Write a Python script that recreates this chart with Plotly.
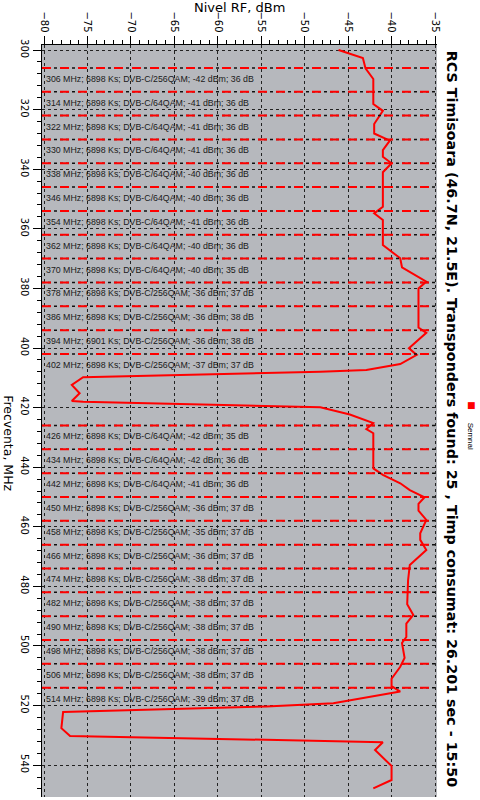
import plotly.graph_objects as go

# Scanned signal level (dBm) along frequency (MHz)
freq_mhz = [300.0, 302.7, 306.1, 309.7, 318.1, 320.4, 324.8, 328.0, 330.4, 333.6,
            335.8, 338.0, 341.0, 352.6, 354.8, 357.0, 365.4, 369.9, 372.9, 377.7,
            380.0, 393.1, 394.9, 400.1, 402.3, 405.4, 407.4, 408.0, 409.8, 412.4,
            415.2, 417.8, 418.0, 419.9, 422.3, 425.2, 427.2, 428.6, 440.4, 442.6,
            445.4, 447.7, 450.1, 452.3, 454.6, 457.7, 462.2, 464.4, 467.8, 472.8,
            478.0, 486.0, 489.6, 492.5, 497.0, 499.0, 504.0, 507.0, 511.0, 513.5,
            515.3, 519.2, 520.3, 522.2, 527.6, 530.2, 532.3, 534.9, 540.3, 545.0,
            547.8]
level_dbm = [-46.1, -43.3, -43.0, -42.1, -42.1, -41.0, -42.0, -42.0, -40.2, -41.0,
             -41.0, -40.0, -41.0, -41.0, -42.0, -41.0, -41.0, -39.0, -38.8, -36.0,
             -36.9, -36.9, -36.0, -38.0, -37.1, -39.0, -42.9, -48.2, -75.5, -76.8,
             -75.9, -76.8, -75.5, -48.2, -44.8, -42.1, -42.9, -42.1, -42.1, -41.0,
             -39.0, -37.9, -36.2, -36.9, -36.9, -36.0, -36.7, -36.7, -36.0, -37.9,
             -38.1, -38.2, -37.5, -38.3, -38.3, -38.8, -38.5, -39.0, -40.0, -40.0,
             -39.0, -46.7, -54.4, -77.8, -78.0, -77.0, -41.0, -41.9, -40.0, -40.0,
             -42.1]

# Transponders found
tp_freq = [306, 314, 322, 330, 338, 346, 354, 362, 370, 378, 386, 394, 402,
           426, 434, 442, 450, 458, 466, 474, 482, 490, 498, 506, 514]
tp_symrate = [6898, 6898, 6898, 6898, 6898, 6898, 6898, 6898, 6898, 6898, 6898, 6901, 6898,
              6898, 6898, 6898, 6898, 6898, 6898, 6898, 6898, 6898, 6898, 6898, 6898]
tp_mod = ["256QAM", "64QAM", "64QAM", "64QAM", "64QAM", "64QAM", "64QAM", "64QAM", "64QAM",
          "256QAM", "256QAM", "256QAM", "256QAM", "64QAM", "64QAM", "64QAM", "256QAM",
          "256QAM", "256QAM", "256QAM", "256QAM", "256QAM", "256QAM", "256QAM", "256QAM"]
tp_level = [-42, -41, -41, -41, -40, -40, -41, -40, -40, -36, -36, -36, -37,
            -42, -42, -41, -36, -35, -36, -38, -38, -38, -38, -38, -39]
tp_mer = [36, 36, 36, 36, 36, 36, 36, 36, 35, 37, 38, 38, 37,
          35, 36, 36, 37, 37, 37, 37, 37, 37, 37, 37, 37]

title_text = ("RCS Timisoara (46.7N, 21.5E). Transponders found: 25 , "
              "Timp consumat: 26.201 sec - 15:50")

FONT = "DejaVu Sans"
SMALL_FONT = "Liberation Sans"

fig = go.Figure()
fig.add_trace(go.Scatter(
    x=level_dbm, y=freq_mhz, mode="lines", name="Semnal",
    line=dict(color="#ff0000", width=2), showlegend=False,
))

# channel markers + labels
for f, sr, mod, lv, mer in zip(tp_freq, tp_symrate, tp_mod, tp_level, tp_mer):
    fig.add_shape(type="line", xref="x domain", yref="y", x0=0, x1=1, y0=f, y1=f,
                  line=dict(color="#111111", width=1.5, dash="dot"), layer="above")
    fig.add_shape(type="line", xref="x domain", yref="y", x0=0, x1=1, y0=f, y1=f,
                  line=dict(color="#ff0000", width=2, dash="dash"), layer="above")
    fig.add_annotation(
        xref="x domain", yref="y", x=0.005, y=f, yshift=-11,
        xanchor="left", yanchor="middle", showarrow=False,
        text=f"{f} MHz; {sr} Ks; DVB-C/{mod}; {lv} dBm; {mer} dB",
        font=dict(family=SMALL_FONT, size=8.8, color="#1a1a1a"),
    )

# rotated texts
fig.add_annotation(xref="paper", yref="paper", x=1.038, y=0.503, textangle=90,
                   xanchor="center", yanchor="middle", showarrow=False,
                   text=f"<b>{title_text}</b>",
                   font=dict(family=FONT, size=14.3, color="black"))
fig.add_annotation(xref="paper", yref="paper", x=0.5, y=1.05,
                   xanchor="center", yanchor="middle", showarrow=False,
                   text="Nivel RF, dBm", font=dict(family=FONT, size=13, color="black"))
fig.add_annotation(xref="paper", yref="paper", x=-0.085, y=0.47, textangle=90,
                   xanchor="center", yanchor="middle", showarrow=False,
                   text="Frecventa, MHz", font=dict(family=FONT, size=12.5, color="black"))
fig.add_annotation(xref="paper", yref="paper", x=1.087, y=0.48, textangle=90,
                   xanchor="center", yanchor="middle", showarrow=False,
                   text="Semnal", font=dict(family=SMALL_FONT, size=8, color="black"))
fig.add_annotation(xref="paper", yref="paper", x=1.087, y=0.521,
                   xanchor="center", yanchor="middle", showarrow=False,
                   text="■", font=dict(family=FONT, size=9, color="#ff0000"))

fig.update_xaxes(
    side="top", range=[-80.23, -34.77], dtick=5, tick0=-80, tickangle=90,
    ticks="outside", ticklen=8, tickcolor="black", automargin=False,
    minor=dict(dtick=1, ticks="outside", ticklen=4, tickcolor="black"),
    showline=True, linecolor="black", linewidth=1, mirror=False,
    showgrid=True, gridcolor="#222222", griddash="dot", gridwidth=1,
    zeroline=False, tickfont=dict(family=FONT, size=10, color="black"),
)
fig.update_yaxes(
    range=[550.7, 298.3], dtick=20, tick0=300, tickangle=90,
    ticks="outside", ticklen=8, tickcolor="black", automargin=False,
    minor=dict(dtick=4, ticks="outside", ticklen=4, tickcolor="black"),
    showline=True, linecolor="black", linewidth=1,
    showgrid=True, gridcolor="#222222", griddash="dot", gridwidth=1,
    zeroline=False, tickfont=dict(family=FONT, size=10, color="black"),
)
fig.update_layout(
    width=480, height=800,
    margin=dict(l=42, r=43, t=45, b=3),
    paper_bgcolor="white", plot_bgcolor="#b6b8bd",
    showlegend=False,
)

# drop the browser's default 8px body margin so the figure sits at the page corner
fig.write_html("out.html", config={"displayModeBar": False},
               post_script="document.body.style.margin = '0';")
